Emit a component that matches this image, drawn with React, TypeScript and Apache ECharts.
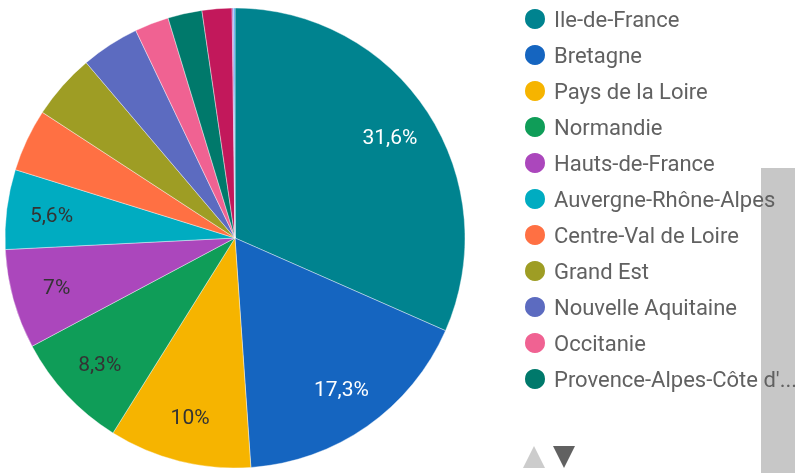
import React, { useEffect, useRef } from "react";
import * as echarts from "echarts";

const regions = [
  "Ile-de-France",
  "Bretagne",
  "Pays de la Loire",
  "Normandie",
  "Hauts-de-France",
  "Auvergne-Rhône-Alpes",
  "Centre-Val de Loire",
  "Grand Est",
  "Nouvelle Aquitaine",
  "Occitanie",
  "Provence-Alpes-Côte d'Azur",
  "Bourgogne-Franche-Comté",
  "Corse",
  "Outre-mer",
];
const shares = [31.6, 17.3, 10, 8.3, 7, 5.6, 4.4, 4.6, 4.1, 2.4, 2.4, 2.1, 0.1, 0.1];
const colors = [
  "#00838F", "#1565C0", "#F6B400", "#0F9D58", "#AB47BC", "#00ACC1",
  "#FF7043", "#9E9D24", "#5C6BC0", "#F06292", "#00796B", "#C2185B",
  "#8E5CC9", "#42A5F5",
];
const labelColors = ["#ffffff", "#ffffff", "#333333", "#333333", "#333333", "#333333"];
const labelMin = 5;
const legendVisibleCount = 11;

export default function App() {
  const ref = useRef<HTMLDivElement>(null);
  useEffect(() => {
    if (!ref.current) return;
    const chart = echarts.init(ref.current, null, { renderer: "svg" });
    const baseData = regions.map((name, i) => ({
      name,
      value: shares[i],
      itemStyle: { color: colors[i] },
    }));
    const labelData = regions.map((name, i) => ({
      name,
      value: shares[i],
      label: {
        show: shares[i] >= labelMin,
        color: labelColors[i] || "#333333",
      },
    }));
    chart.setOption({
      animation: false,
      legend: {
        type: "plain",
        orient: "vertical",
        left: 523,
        top: 7,
        padding: 0,
        itemGap: 12,
        itemWidth: 22,
        itemHeight: 22,
        icon: "circle",
        data: regions.slice(0, legendVisibleCount),
        selectedMode: false,
        textStyle: {
          fontFamily: "Roboto",
          fontSize: 22,
          lineHeight: 22,
          color: "#616161",
          padding: [0, 0, 0, 3],
          width: 253,
          overflow: "truncate",
          ellipsis: "...",
        },
      },
      graphic: [
        {
          type: "rect",
          z: 0,
          shape: { x: 761, y: 168, width: 34, height: 305 },
          style: { fill: "#c7c7c7" },
          silent: true,
        },
        {
          type: "polygon",
          z: 10,
          shape: { points: [[523, 468], [545, 468], [534, 446]] },
          style: { fill: "#cccccc" },
          silent: true,
        },
        {
          type: "polygon",
          z: 10,
          shape: { points: [[553, 446], [575, 446], [564, 468]] },
          style: { fill: "#616161" },
          silent: true,
        },
      ],
      series: [
        {
          type: "pie",
          center: [235, 238],
          radius: [0, 230],
          startAngle: 90,
          clockwise: true,
          label: { show: false },
          labelLine: { show: false },
          itemStyle: { borderColor: "#ffffff", borderWidth: 0.4 },
          emphasis: { disabled: true },
          data: baseData,
          z: 2,
        },
        {
          type: "pie",
          center: [235, 238],
          radius: [134, 230],
          startAngle: 90,
          clockwise: true,
          silent: true,
          itemStyle: { color: "transparent", borderWidth: 0 },
          label: {
            position: "inside",
            fontFamily: "Roboto",
            fontSize: 21,
            formatter: (p: any) => String(p.value).replace(".", ",") + "%",
          },
          labelLine: { show: false },
          emphasis: { disabled: true },
          data: labelData,
          z: 3,
        },
      ],
    });
    return () => chart.dispose();
  }, []);
  return (
    <div
      ref={ref}
      style={{ position: "fixed", left: 0, top: 0, width: 795, height: 473 }}
    />
  );
}
